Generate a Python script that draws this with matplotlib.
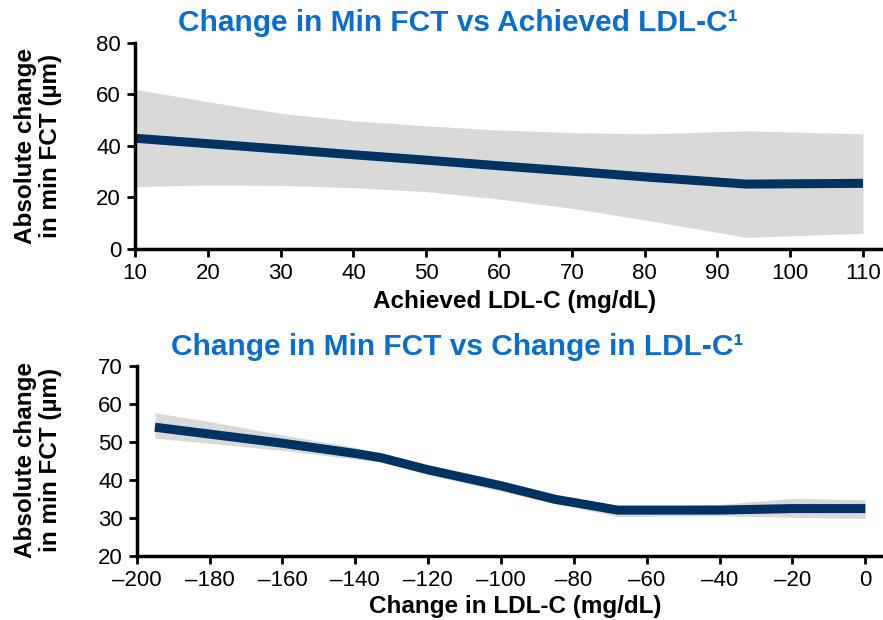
import matplotlib
matplotlib.use("Agg")
import matplotlib.pyplot as plt

plt.rcParams['font.family'] = ['Liberation Sans', 'DejaVu Sans']

# top panel: achieved LDL-C
achX = [10, 20, 30, 40, 50, 60, 70, 80, 94, 110]
achMean = [43.0, 40.9, 38.8, 36.6, 34.5, 32.3, 30.2, 28.0, 25.2, 25.5]
achUpper = [62.0, 57.2, 52.7, 49.8, 47.8, 46.2, 45.2, 44.7, 45.9, 44.7]
achLower = [24.2, 24.9, 24.7, 23.8, 22.3, 19.4, 15.8, 11.3, 4.5, 6.1]
achTicks = [10, 20, 30, 40, 50, 60, 70, 80, 90, 100, 110]

# bottom panel: change in LDL-C
chgX = [-195, -180, -160, -140, -133, -120, -100, -85, -80, -68, -40, -20, 0]
chgMean = [53.8, 52.0, 49.6, 46.9, 45.8, 42.6, 38.4, 34.8, 34.0, 32.0, 32.0, 32.4, 32.4]
chgUpper = [57.6, 55.3, 51.8, 48.5, 46.9, 44.0, 39.8, 36.2, 35.3, 32.9, 33.5, 35.1, 34.7]
chgLower = [50.9, 49.6, 47.7, 45.4, 44.7, 41.3, 37.0, 33.6, 32.8, 30.3, 30.5, 30.1, 29.8]
chgTicks = [-200, -180, -160, -140, -120, -100, -80, -60, -40, -20, 0]

lineColor = "#003262"
bandColor = "#d9d9d9"
titleColor = "#0a6ed1"

fig = plt.figure(figsize=(8.83, 6.2), dpi=100)
topPlot = fig.add_axes([0.1529, 0.5984, 0.845, 0.3323])
botPlot = fig.add_axes([0.1548, 0.1037, 0.845, 0.3065])

def style(ax):
    for s in ["top", "right"]:
        ax.spines[s].set_visible(False)
    for s in ["left", "bottom"]:
        ax.spines[s].set_linewidth(2.5)
        ax.spines[s].set_color("black")
    ax.tick_params(axis="both", direction="out", length=6, width=2,
                   labelsize=16, colors="black", pad=4)

topPlot.fill_between(achX, achLower, achUpper, color=bandColor, lw=0)
topPlot.plot(achX, achMean, color=lineColor, lw=6.5, solid_capstyle="butt")
topPlot.set_xlim(10, 112.5)
topPlot.set_ylim(0, 80)
topPlot.set_xticks(achTicks)
topPlot.set_yticks([0, 20, 40, 60, 80])
style(topPlot)

botPlot.fill_between(chgX, chgLower, chgUpper, color=bandColor, lw=0)
botPlot.plot(chgX, chgMean, color=lineColor, lw=6.5, solid_capstyle="butt")
botPlot.set_xlim(-200, 4.8)
botPlot.set_ylim(20, 70)
botPlot.set_xticks(chgTicks)
botPlot.set_yticks([20, 30, 40, 50, 60, 70])
botPlot.set_xticklabels(["\u2013" + str(-t) if t < 0 else str(t) for t in chgTicks])
style(botPlot)

fig.text(0.518, 0.963, "Change in Min FCT vs Achieved LDL-C\u00b9", ha="center", va="center",
         fontsize=21.5, fontweight="bold", color=titleColor)
fig.text(0.518, 0.441, "Change in Min FCT vs Change in LDL-C\u00b9", ha="center", va="center",
         fontsize=21.5, fontweight="bold", color=titleColor)
fig.text(0.583, 0.513, "Achieved LDL-C (mg/dL)", ha="center", va="center",
         fontsize=17.5, fontweight="bold")
fig.text(0.583, 0.021, "Change in LDL-C (mg/dL)", ha="center", va="center",
         fontsize=17.5, fontweight="bold")
fig.text(0.043, 0.765, "Absolute change\nin min FCT (\u00b5m)", ha="center", va="center",
         rotation=90, fontsize=17.5, fontweight="bold", linespacing=1.15)
fig.text(0.043, 0.258, "Absolute change\nin min FCT (\u00b5m)", ha="center", va="center",
         rotation=90, fontsize=17.5, fontweight="bold", linespacing=1.15)

fig.savefig("out.png", dpi=100)
